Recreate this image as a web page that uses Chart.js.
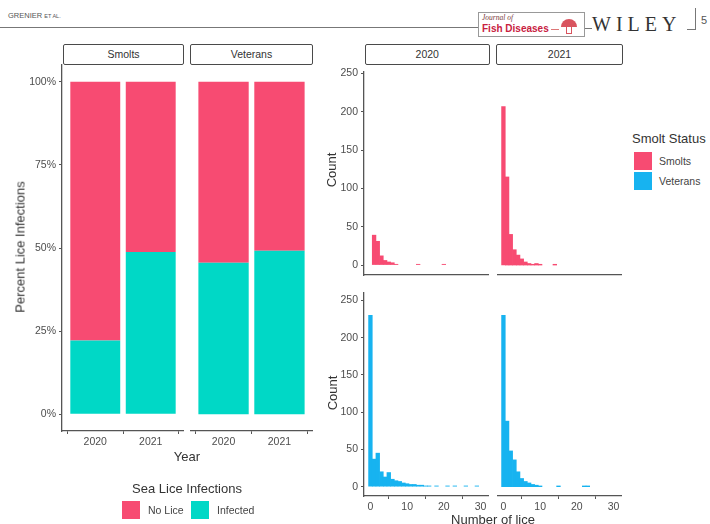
<!DOCTYPE html>
<html>
<head>
<meta charset="utf-8">
<title>Sea lice infections</title>
<script src="https://cdn.jsdelivr.net/npm/chart.js@4.4.1/dist/chart.umd.min.js"></script>
<style>
  body { margin: 0; width: 710px; height: 524px; overflow: hidden; position: relative; background: #fff;
         font-family: "Liberation Sans", Arial, sans-serif; color: #222; }
  canvas { position: absolute; }
  .txt { position: absolute; white-space: nowrap; }
  .mid { transform: translate(-50%, -50%); }
  .vmid { transform: translateY(-50%); }
  .vert { position: absolute; white-space: nowrap; transform: translate(-50%, -50%) rotate(-90deg); font-size: 13px; color: #333; }
  .title { font-size: 13px; color: #333; }
  .lab { font-size: 10.5px; color: #444; }
  .strip { position: absolute; box-sizing: border-box; border: 1.4px solid #4a4a4a; border-radius: 2px;
           font-size: 10.5px; color: #333; display: flex; align-items: center; justify-content: center; background: #fff; }
  .key { position: absolute; width: 18px; height: 18px; }
  .hl { position: absolute; height: 1px; background: #777; }
</style>
</head>
<body>

<!-- page header -->
<div class="txt" style="left:8px;top:11px;font-size:7.5px;color:#555">GRENIER <span style="font-size:5.5px">ET AL.</span></div>
<div class="hl" style="left:0;top:27px;width:479px"></div>
<div style="position:absolute;left:478px;top:12px;width:107px;height:25px;border:1px solid #999;box-sizing:border-box;background:#fff">
  <div class="txt" style="left:3px;top:0px;font-size:7.5px;font-style:italic;color:#7a3c3c;font-family:'Liberation Serif',serif">Journal of</div>
  <div class="txt" style="left:3px;top:10px;font-size:10px;font-weight:bold;color:#c8213f">Fish Diseases</div>
  <div style="position:absolute;left:72px;top:16px;width:8px;height:1px;background:#d77"></div>
  <div style="position:absolute;left:82px;top:6px;width:16px;height:8px;border-radius:8px 8px 0 0;background:#d9545f"></div>
  <div style="position:absolute;left:87px;top:14px;width:6px;height:7px;border:1px solid #d9545f;border-top:none;box-sizing:border-box"></div>
</div>
<div class="hl" style="left:585px;top:28px;width:7px"></div>
<div class="txt" style="left:592px;top:13px;font-family:'Liberation Serif',serif;font-size:20px;color:#333;letter-spacing:5px">WILEY</div>
<div class="hl" style="left:687px;top:29px;width:8px"></div>
<div style="position:absolute;left:695px;top:8px;width:1px;height:22px;background:#777"></div>
<div class="txt" style="left:701px;top:14px;font-size:11px;color:#555">5</div>

<!-- left plot: stacked percent bars -->
<canvas id="barSmolts" width="162" height="401" style="left:22px;top:55px"></canvas>
<canvas id="barVeterans" width="123" height="401" style="left:190px;top:55px"></canvas>
<div class="strip" style="left:63px;top:44px;width:121px;height:20.5px">Smolts</div>
<div class="strip" style="left:190px;top:44px;width:123px;height:20.5px">Veterans</div>
<div class="vert" style="left:20px;top:247px">Percent Lice Infections</div>
<div class="txt title mid" style="left:187px;top:456px">Year</div>

<div class="txt title mid" style="left:187px;top:488px">Sea Lice Infections</div>
<div class="key" id="keyNoLice" style="left:122px;top:501px"></div>
<div class="txt lab vmid" id="lblNoLice" style="left:148px;top:510px"></div>
<div class="key" id="keyInfected" style="left:191px;top:501px"></div>
<div class="txt lab vmid" id="lblInfected" style="left:217px;top:510px"></div>

<!-- right plot: histograms -->
<canvas id="h2020s" width="161" height="223" style="left:328px;top:62px"></canvas>
<canvas id="h2021s" width="125" height="223" style="left:497px;top:62px"></canvas>
<canvas id="h2020v" width="161" height="235" style="left:328px;top:283px"></canvas>
<canvas id="h2021v" width="125" height="235" style="left:497px;top:283px"></canvas>
<div class="strip" style="left:365px;top:44px;width:124.5px;height:20.5px">2020</div>
<div class="strip" style="left:496px;top:44px;width:127px;height:20.5px">2021</div>
<div class="vert" style="left:331px;top:170px">Count</div>
<div class="vert" style="left:331.5px;top:393px">Count</div>
<div class="txt title mid" style="left:493px;top:519px">Number of lice</div>

<div class="txt title vmid" style="left:632px;top:138px">Smolt Status</div>
<div class="key" id="keySmolts" style="left:634px;top:152px"></div>
<div class="txt lab vmid" id="lblSmolts" style="left:659px;top:161px"></div>
<div class="key" id="keyVeterans" style="left:634px;top:172px"></div>
<div class="txt lab vmid" id="lblVeterans" style="left:659px;top:181px"></div>

<script>
// data
const years = ['2020', '2021'];
const groups = ['Smolts', 'Veterans'];
const infectionLabels = ['No Lice', 'Infected'];
const smoltsInfected = [22.2, 48.8];     // % infected, 2020 / 2021
const veteransInfected = [45.6, 49.2];
const percentTicks = [0, 25, 50, 75, 100];

// histogram bins = number of lice (0..30), counts per bin
const liceBins = [0, 1, 2, 3, 4, 5, 6, 7, 8, 9, 10, 11, 12, 13, 14, 15, 16, 17, 18, 19, 20, 21, 22, 23, 24, 25, 26, 27, 28, 29, 30];
const smolts2020 = [null, 39, 31, 12, 6, 4, 3, 1, 0, 0, 0, 0, 0, 1, 0, 0, 0, 0, 0, 0, 1, 0, 0, 0, 0, 0, 0, 0, 0, 0, 0];
const smolts2021 = [207, 115, 40, 20, 13, 8, 4, 2, 1, 2, 1, 0, 0, 0, 1, 0, 0, 0, 0, 0, 0, 0, 0, 0, 0, 0, 0, 0, 0, 0, 0];
const veterans2020 = [230, 37, 45, 20, 13, 19, 10, 8, 7, 5, 4, 3, 3, 2, 2, 1, 1, 0, 1, 0, 0, 1, 0, 1, 0, 0, 1, 0, 0, 1, 0];
const veterans2021 = [230, 88, 48, 36, 20, 11, 7, 5, 3, 2, 1, 0, 0, 0, 0, 1, 0, 0, 0, 0, 0, 0, 1, 1, 0, 0, 0, 0, 0, 0, 0];
const liceTicks = [0, 10, 20, 30];
const countTicks = [0, 50, 100, 150, 200, 250];

const pink = '#F74B72';
const teal = '#00D8C6';
const blue = '#17B3F0';
const axisCol = '#555';

Chart.defaults.font.family = '"Liberation Sans", Arial, sans-serif';
Chart.defaults.font.size = 10.5;
Chart.defaults.color = '#4d4d4d';
Chart.defaults.animation = false;
Chart.defaults.plugins.legend.display = false;
Chart.defaults.plugins.tooltip.enabled = false;

// legends
document.getElementById('keyNoLice').style.background = pink;
document.getElementById('keyInfected').style.background = teal;
document.getElementById('lblNoLice').textContent = infectionLabels[0];
document.getElementById('lblInfected').textContent = infectionLabels[1];
document.getElementById('keySmolts').style.background = pink;
document.getElementById('keyVeterans').style.background = blue;
document.getElementById('lblSmolts').textContent = groups[0];
document.getElementById('lblVeterans').textContent = groups[1];

function barPanel(id, infected, showY) {
    new Chart(document.getElementById(id), {
        type: 'bar',
        data: {
            datasets: [
                { label: infectionLabels[1], backgroundColor: teal,
                  data: years.map((y, i) => ({ x: i + 1, y: infected[i] })) },
                { label: infectionLabels[0], backgroundColor: pink,
                  data: years.map((y, i) => ({ x: i + 1, y: 100 - infected[i] })) }
            ]
        },
        options: {
            responsive: false,
            layout: { padding: { top: 10, right: 0, bottom: 0, left: 0 } },
            datasets: { bar: { barPercentage: 0.9, categoryPercentage: 1, borderWidth: 0 } },
            scales: {
                x: {
                    type: 'linear', stacked: true, min: 0.4, max: 2.6, offset: false,
                    afterBuildTicks: s => { s.ticks = years.map((y, i) => ({ value: i + 1 })); },
                    afterFit: s => { s.height = 25; },
                    ticks: { callback: v => years[v - 1], padding: 2 },
                    grid: { drawOnChartArea: false, tickLength: 3, color: axisCol },
                    border: { color: axisCol, width: 1.3 }
                },
                y: {
                    stacked: true, min: -5, max: 105, display: showY,
                    afterBuildTicks: s => { s.ticks = percentTicks.map(v => ({ value: v })); },
                    afterFit: s => { s.width = showY ? 40 : 0; },
                    ticks: { callback: v => v + '%', padding: 3 },
                    grid: { drawOnChartArea: false, tickLength: 3, color: axisCol },
                    border: { color: axisCol, width: 1.3 }
                }
            }
        }
    });
}

function histPanel(id, counts, color, showY, showX, yMin, yMax) {
    new Chart(document.getElementById(id), {
        type: 'bar',
        data: {
            datasets: [{
                backgroundColor: color,
                data: liceBins.map((b, i) => ({ x: b, y: counts[i] }))
            }]
        },
        options: {
            responsive: false,
            layout: { padding: { top: 10, right: 0, bottom: 0, left: 0 } },
            datasets: { bar: {
                barPercentage: 1, categoryPercentage: 1, borderWidth: 0,
                // empty bins should not leave a sliver on the baseline
                inflateAmount: c => (c.raw && c.raw.y > 0) ? 0.33 : 0
            } },
            scales: {
                x: {
                    type: 'linear', min: -1.75, max: 32.3, offset: false,
                    afterBuildTicks: s => { s.ticks = liceTicks.map(v => ({ value: v })); },
                    afterFit: s => { s.height = showX ? 22 : 10; },
                    ticks: { display: showX, padding: 2 },
                    grid: { display: showX, drawOnChartArea: false, tickLength: 3, color: axisCol },
                    border: { display: true, color: axisCol, width: 1.3 }
                },
                y: {
                    min: yMin, max: yMax, display: showY,
                    afterBuildTicks: s => { s.ticks = countTicks.map(v => ({ value: v })); },
                    afterFit: s => { s.width = showY ? 36 : 0; },
                    ticks: { padding: 3 },
                    grid: { drawOnChartArea: false, tickLength: 3, color: axisCol },
                    border: { color: axisCol, width: 1.3 }
                }
            }
        }
    });
}

barPanel('barSmolts', smoltsInfected, true);
barPanel('barVeterans', veteransInfected, false);

histPanel('h2020s', smolts2020, pink, true, false, -13, 252);
histPanel('h2021s', smolts2021, pink, false, false, -13, 252);
histPanel('h2020v', veterans2020, blue, true, true, -12.5, 260);
histPanel('h2021v', veterans2021, blue, false, true, -12.5, 260);
</script>
</body>
</html>
